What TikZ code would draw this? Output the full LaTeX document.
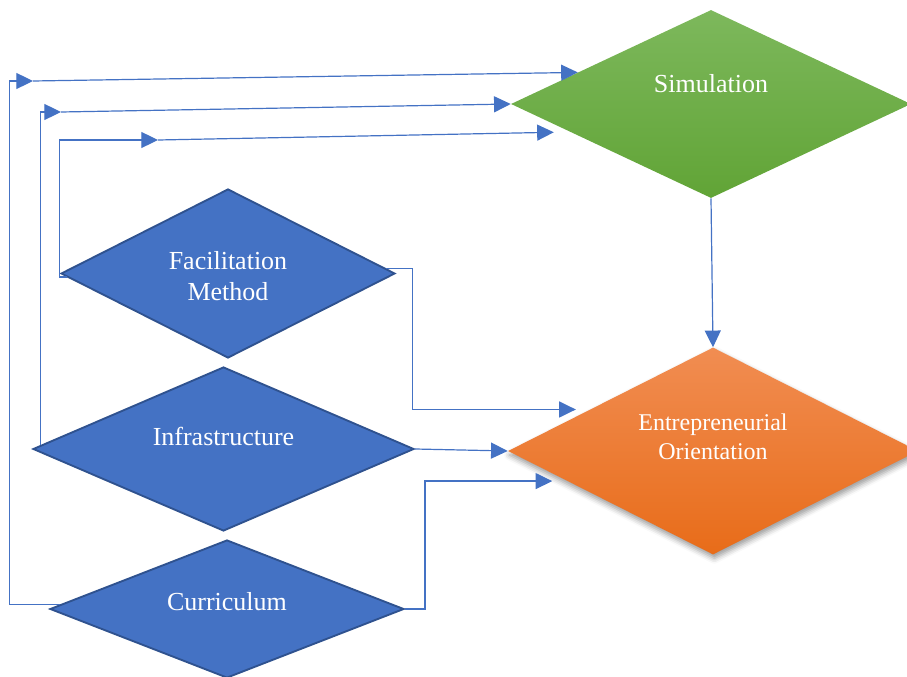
\documentclass[tikz,border=0pt]{standalone}
\usepackage{fontspec}
\setmainfont{Liberation Serif}
\usetikzlibrary{shapes.geometric,arrows.meta,calc,shadows.blur}

\definecolor{factorblue}{HTML}{4472C4}
\definecolor{factorline}{HTML}{2F528F}
\definecolor{connblue}{HTML}{4472C4}
\definecolor{simtop}{HTML}{7DB85C}
\definecolor{simbottom}{HTML}{61A436}
\definecolor{eotop}{HTML}{F18D52}
\definecolor{eobottom}{HTML}{E86C19}

\tikzset{
    factor/.style={diamond,draw=factorline,line width=1.4pt,fill=factorblue,inner sep=0pt},
    outcome/.style={diamond,draw=none,inner sep=0pt},
    lbl/.style={text=white,align=center,anchor=base,font=\fontsize{19.5}{24}\selectfont},
    conn/.style={draw=connblue,line width=0.9pt,-{Triangle[length=12.5pt,width=12pt]}},
}

\begin{document}
\begin{tikzpicture}[x=0.75pt,y=-0.75pt]
                    \useasboundingbox (0,0) rectangle (907,677);

                    %NODE
                    \node[outcome,top color=simtop,bottom color=simbottom,minimum width=300pt,minimum height=141pt] (sim) at (711,104){};
                    \node[outcome,top color=eotop,bottom color=eobottom,minimum width=307.5pt,minimum height=155.25pt,
                          blur shadow={shadow xshift=1pt,shadow yshift=-3pt,shadow blur radius=4pt}] (eo) at (713,451){};
                    \node[factor,minimum width=250.5pt,minimum height=126.75pt] (fac) at (228,273.5){};
                    \node[factor,minimum width=285.75pt,minimum height=123pt] (inf) at (223.5,449){};
                    \node[factor,minimum width=265.5pt,minimum height=103.5pt] (cur) at (227,609){};

                    %TEXT (base = last line)
                    \node[lbl] (simtext) at (711,93){Simulation};
                    \node[lbl,font=\fontsize{18}{21.5}\selectfont] (eotext) at (713,459){Entrepreneurial\\Orientation};
                    \node[lbl] (factext) at (228,301){Facilitation\\Method};
                    \node[lbl] (inftext) at (223.5,445){Infrastructure};
                    \node[lbl] (curtext) at (227,610){Curriculum};

                    %BENDS
                    \coordinate (c1) at (33,81);
                    \coordinate (c2) at (61,112);
                    \coordinate (c3) at (158,140);

                    %EDGE
                    \draw[conn] ($(cur.west)!0.06!(cur.north)$) -- ++(-50,0) |- (c1);
                    \draw[conn] (c1) -- ($(sim.west)!0.335!(sim.north)$);
                    \draw[conn] ($(inf.west)!0.045!(inf.north)$) |- (c2);
                    \draw[conn] (c2) -- (sim.west);
                    \draw[conn] ($(fac.west)!0.04!(fac.south)$) -- ++(-7,0) |- (c3);
                    \draw[conn] (c3) -- ($(sim.west)!0.3!(sim.south)+(-17,0)$);
                    \draw[conn] ($(fac.east)!0.06!(fac.north)$) -- ++(27,0) |- ($(eo.west)!0.4!(eo.north)+(-14,0)$);
                    \draw[conn] (inf.east) -- (eo.west);
                    \draw[conn] (cur.east) -- ++(20,0) |- ($(eo.west)!0.29!(eo.south)+(-15,0)$);
                    \draw[conn] (sim.south) -- (eo.north);
\end{tikzpicture}
\end{document}
